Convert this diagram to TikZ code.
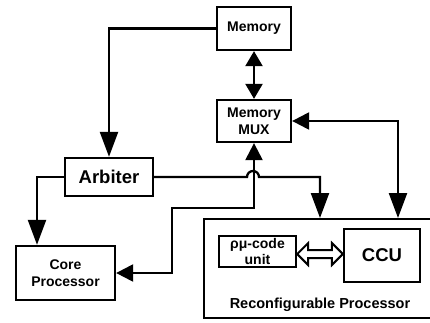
\documentclass[tikz,border=0pt]{standalone}
\usepackage{fontspec}
\setmainfont{Liberation Sans}
\usetikzlibrary{arrows.meta,calc}
\begin{document}
\begin{tikzpicture}[x=1pt,y=-1pt,
  box/.style={draw, line width=2.3pt, inner sep=0pt, align=center,
    font=\fontsize{14}{16.5}\selectfont\bfseries},
  bigtext/.style={font=\fontsize{18.5}{20}\selectfont\bfseries},
  conn/.style={line width=2.3pt},
  hollow/.style={draw, line width=2pt, line join=miter, fill=white},
  sh/.tip={Triangle[length=17pt,width=17pt]},
  lg/.tip={Triangle[length=25pt,width=18pt]},
  ms/.tip={Triangle[length=15pt,width=17pt]}
]
\useasboundingbox (0,0) rectangle (430,322);
\clip (0,0) rectangle (430,322);

\node[box, minimum width=74pt, minimum height=43pt] (mem) at (254,28.5) {Memory};
\node[box, minimum width=74pt, minimum height=42pt] (mux) at (254,121) {Memory\\MUX};
\node[box, bigtext, minimum width=88pt, minimum height=38pt] (arb) at (109,177) {Arbiter};
\node[box, minimum width=99pt, minimum height=54pt] (core) at (65.5,273) {Core\\Processor};
\node[box, minimum width=236pt, minimum height=99pt] (rp) at (322,268.5) {};
\node[font=\fontsize{14.5}{16}\selectfont\bfseries, inner sep=0pt] (rplabel) at (320,305) {Reconfigurable Processor};
\node[box, minimum width=77pt, minimum height=31pt] (unit) at (257.5,251.5) {ρμ-code\\unit};
\node[box, bigtext, minimum width=76pt, minimum height=53pt] (ccu) at (382,255.5) {CCU};

\coordinate (dl) at (unit.east |- 0,254);
\coordinate (dr) at (ccu.west |- 0,254);
\draw[hollow] (dl) -- ++(11,-11) -- ++(0,7) -- ($(dr)+(-11,-4)$) -- ++(0,-7) -- (dr)
  -- ++(-11,11) -- ++(0,-7) -- ($(dl)+(11,4)$) -- ++(0,7) -- cycle;

\coordinate (hopa) at (247,177);
\coordinate (rpin1) at (320,218);
\coordinate (rpin2) at (398,218);
\coordinate (corebend) at (172,208);

\draw[conn, ms-ms] (mem) -- (mux);
\draw[conn, -lg] (mem.west) -| (arb.north);
\draw[conn, -lg] (arb.west) -| ([xshift=-28.5pt]core.north);
\draw[conn, -lg] (arb.east) -- (hopa) arc[start angle=180, end angle=360, radius=6] -- (rpin1 |- arb.east) -- (rpin1);
\draw[conn, sh-sh] (core.east) -| (corebend) -| (mux.south);
\draw[conn, sh-lg] (mux.east) -| (rpin2);
\end{tikzpicture}
\end{document}
